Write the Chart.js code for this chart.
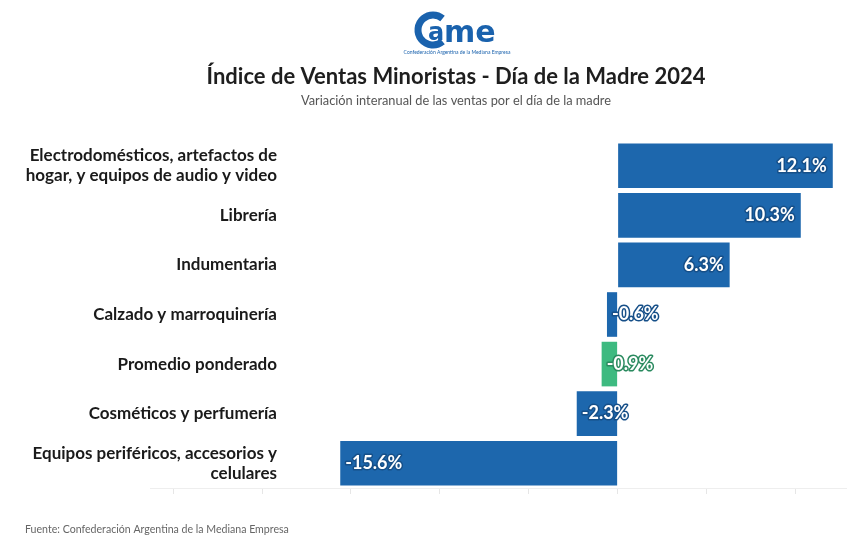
<!DOCTYPE html>
<html>

<head>
    <meta charset="utf-8">
    <title>Día de la Madre 2024</title>
    <script src="https://cdn.jsdelivr.net/npm/chart.js@4.4.1/dist/chart.umd.min.js"></script>
    <style>
        html, body { margin: 0; padding: 0; background: #fff; }
        #wrap { position: relative; width: 847px; height: 544px; }
    </style>
</head>

<body>
    <div id="wrap"><canvas id="c" width="847" height="544"></canvas></div>
    <script>
        // rubros y variación interanual (%)
        const rubros = [
            ['Electrodomésticos, artefactos de', 'hogar, y equipos de audio y video'],
            ['Librería'],
            ['Indumentaria'],
            ['Calzado y marroquinería'],
            ['Promedio ponderado'],
            ['Cosméticos y perfumería'],
            ['Equipos periféricos, accesorios y', 'celulares']
        ]
        const variacion = [12.1, 10.3, 6.3, -0.6, -0.9, -2.3, -15.6]
        const marcasX = [-25, -20, -15, -10, -5, 0, 5, 10]
        const colores = ['#1d67ad', '#1d67ad', '#1d67ad', '#1d67ad', '#3dba80', '#1d67ad', '#1d67ad']
        const bordes = ['#164f88', '#164f88', '#164f88', '#164f88', '#2a8a5f', '#164f88', '#164f88']

        const titulo = 'Índice de Ventas Minoristas - Día de la Madre 2024'
        const subtitulo = 'Variación interanual de las ventas por el día de la madre'
        const fuente = 'Fuente: Confederación Argentina de la Mediana Empresa'

        const textos = {
            id: 'textos',
            afterDraw(chart) {
                const ctx = chart.ctx
                const y = chart.scales.y
                ctx.save()

                // logo
                ctx.strokeStyle = '#1a62ad'
                ctx.lineWidth = 7
                ctx.beginPath()
                ctx.arc(433, 30, 15, 0.28 * Math.PI, 1.72 * Math.PI)
                ctx.stroke()
                ctx.fillStyle = '#1a62ad'
                ctx.textAlign = 'left'
                ctx.textBaseline = 'alphabetic'
                ctx.font = 'bold 24px "DejaVu Sans"'
                ctx.fillText('a', 428, 40)
                ctx.font = 'bold 30px "DejaVu Sans"'
                ctx.fillText('me', 444, 42)
                ctx.font = '5px Lato'
                ctx.textAlign = 'center'
                ctx.fillText('Confederación Argentina de la Mediana Empresa', 457, 54)

                // titulos
                ctx.fillStyle = '#1e1e1e'
                ctx.font = 'bold 22px Lato'
                ctx.textBaseline = 'middle'
                ctx.fillText(titulo, 456, 77)
                ctx.fillStyle = '#555'
                ctx.font = '12.8px Lato'
                ctx.fillText(subtitulo, 456, 101)

                // fuente
                ctx.textAlign = 'left'
                ctx.fillStyle = '#666'
                ctx.font = '10.6px Lato'
                ctx.fillText(fuente, 25, 530)

                // etiquetas de categoría
                ctx.textAlign = 'right'
                ctx.fillStyle = '#1a1a1a'
                ctx.font = 'bold 17px Lato'
                rubros.forEach((lineas, i) => {
                    const cy = y.getPixelForValue(i)
                    const off = (lineas.length - 1) * 10
                    lineas.forEach((l, j) => ctx.fillText(l, 277, cy - off + j * 20))
                })

                // valores
                const meta = chart.getDatasetMeta(0)
                ctx.font = 'bold 18px Lato'
                ctx.lineJoin = 'round'
                meta.data.forEach((bar, i) => {
                    const v = variacion[i]
                    const txt = v.toFixed(1) + '%'
                    let tx
                    if (v >= 0) { ctx.textAlign = 'right'; tx = bar.x - 6 }
                    else { ctx.textAlign = 'left'; tx = bar.x + 5 }
                    ctx.strokeStyle = bordes[i]
                    ctx.lineWidth = 3
                    ctx.strokeText(txt, tx, bar.y)
                    ctx.fillStyle = '#fff'
                    ctx.fillText(txt, tx, bar.y)
                })
                ctx.restore()
            }
        }

        new Chart(document.getElementById('c'), {
            type: 'bar',
            data: {
                labels: rubros,
                datasets: [{
                    data: variacion,
                    backgroundColor: colores,
                    borderWidth: 0,
                    barPercentage: 0.9,
                    categoryPercentage: 1.0
                }]
            },
            options: {
                indexAxis: 'y',
                responsive: false,
                animation: false,
                layout: { padding: { left: 150, right: 0, top: 141, bottom: 50 } },
                plugins: { legend: { display: false }, tooltip: { enabled: false } },
                scales: {
                    x: {
                        min: -26.3,
                        max: 12.9,
                        afterBuildTicks: (axis) => { axis.ticks = marcasX.map(v => ({ value: v })) },
                        ticks: { display: false },
                        grid: { drawOnChartArea: false, color: '#e6e6e6', tickLength: 6 },
                        border: { color: '#eeeeee' }
                    },
                    y: {
                        display: false
                    }
                }
            },
            plugins: [textos]
        })
    </script>
</body>

</html>
